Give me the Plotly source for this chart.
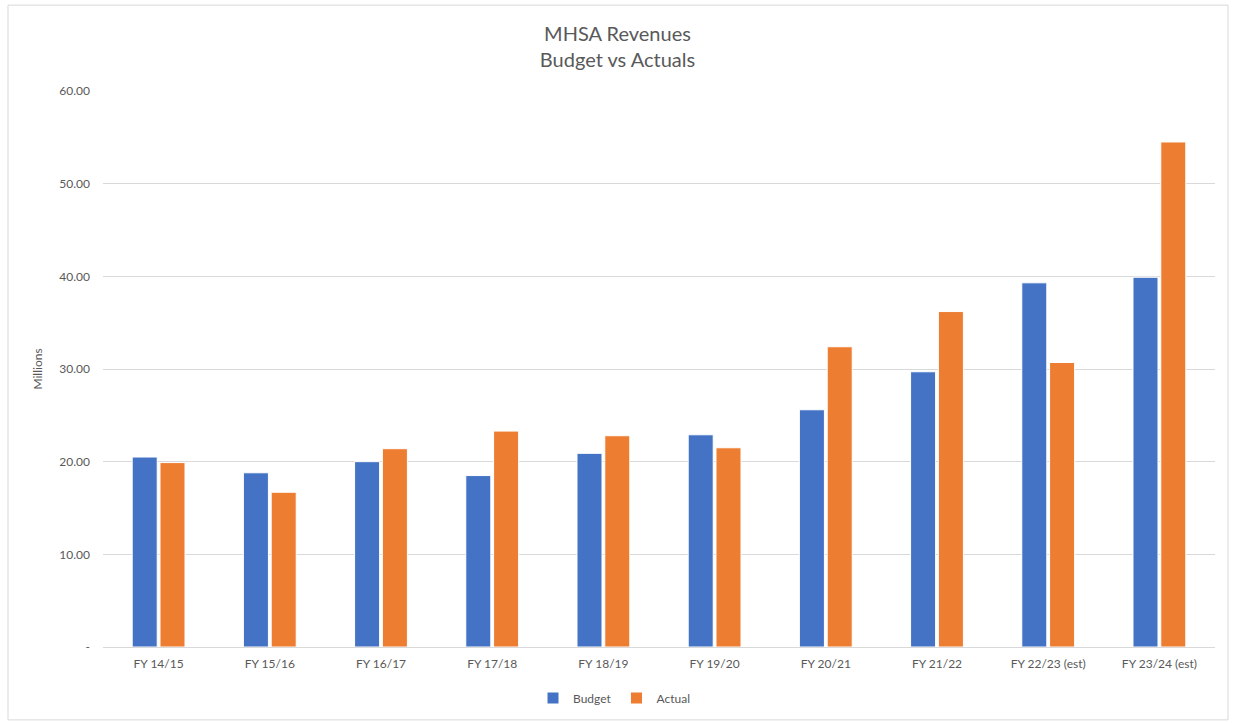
import plotly.graph_objects as go

categories = ["FY 14/15", "FY 15/16", "FY 16/17", "FY 17/18", "FY 18/19", "FY 19/20",
              "FY 20/21", "FY 21/22", "FY 22/23 (est)", "FY 23/24 (est)"]
budget = [20.5, 18.8, 20.0, 18.5, 20.9, 22.9, 25.6, 29.7, 39.3, 39.9]
actual = [19.9, 16.7, 21.4, 23.3, 22.8, 21.5, 32.4, 36.2, 30.7, 54.5]
ytick_vals = [0, 10, 20, 30, 40, 50, 60]
ytick_text = ["-", "10.00", "20.00", "30.00", "40.00", "50.00", "60.00"]

W, H = 1235, 723
ML, MR, MT, MB = 103, 20, 91, 75
pw, ph = W - ML - MR, H - MT - MB

def px_x(p):
    return (p - ML) / pw

def px_y(p):
    return (H - MB - p) / ph

font = "Lato, 'Open Sans', sans-serif"
gray = "#595959"

fig = go.Figure()
fig.add_trace(go.Bar(name="Budget", x=categories, y=budget,
                     marker=dict(color="#4472C4", line=dict(color="white", width=1))))
fig.add_trace(go.Bar(name="Actual", x=categories, y=actual,
                     marker=dict(color="#ED7D31", line=dict(color="white", width=1))))

fig.update_layout(
    width=W, height=H,
    margin=dict(l=ML, r=MR, t=MT, b=MB),
    paper_bgcolor="white", plot_bgcolor="white",
    barmode="group", bargap=0.5, bargroupgap=0.1,
    font=dict(family=font, color=gray, size=12),
    title=dict(text="MHSA Revenues<br>Budget vs Actuals", x=0.5, xanchor="center",
               y=1 - 41 / H, yanchor="middle",
               font=dict(family=font, size=20, color=gray)),
    legend=dict(orientation="h", x=px_x(614), xanchor="center", y=px_y(698), yanchor="middle",
                font=dict(family=font, size=12, color=gray), itemwidth=30,
                traceorder="normal"),
    showlegend=True,
    shapes=[dict(type="rect", xref="paper", yref="paper",
                 x0=px_x(8), x1=px_x(1228), y0=px_y(721), y1=px_y(5),
                 line=dict(color="#D9D9D9", width=1), fillcolor="rgba(0,0,0,0)", layer="below")],
)
fig.update_xaxes(showgrid=False, showline=True, linecolor="#D9D9D9", linewidth=1,
                 ticks="", ticklabelstandoff=6, tickfont=dict(family=font, size=12, color=gray))
fig.update_yaxes(range=[0, 60], tickvals=ytick_vals, ticktext=ytick_text,
                 showgrid=True, gridcolor="#D9D9D9", gridwidth=1, zeroline=False,
                 showline=False, ticks="", ticklen=0, ticklabelstandoff=12,
                 tickfont=dict(family=font, size=12, color=gray),
                 title=dict(text="Millions", font=dict(family=font, size=12, color=gray), standoff=14))

fig.write_html("out.html", config={"displayModeBar": False},
               post_script="document.body.style.margin='0';document.body.style.padding='0';")
